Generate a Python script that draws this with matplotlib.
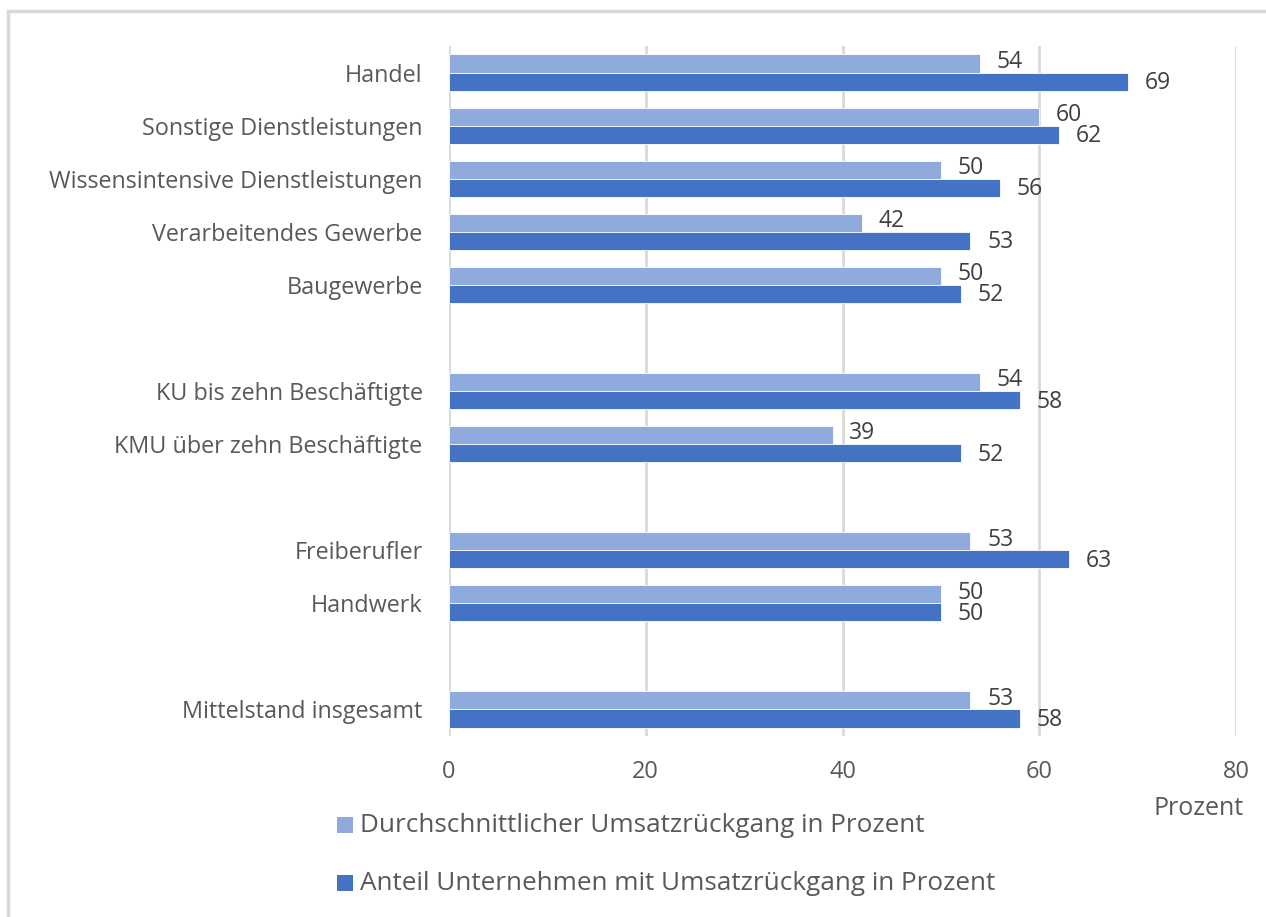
import numpy as np
import matplotlib.pyplot as plt
from matplotlib.patches import Rectangle

plt.rcParams['font.family'] = ['Open Sans', 'DejaVu Sans']

# Kategorien (leere Einträge = Abstand zwischen den Gruppen)
kategorien = ["Handel", "Sonstige Dienstleistungen", "Wissensintensive Dienstleistungen",
              "Verarbeitendes Gewerbe", "Baugewerbe", "",
              "KU bis zehn Beschäftigte", "KMU über zehn Beschäftigte", "",
              "Freiberufler", "Handwerk", "",
              "Mittelstand insgesamt"]
durchschnitt = [54, 60, 50, 42, 50, None, 54, 39, None, 53, 50, None, 53]
anteil = [69, 62, 56, 53, 52, None, 58, 52, None, 63, 50, None, 58]
serien = ["Durchschnittlicher Umsatzrückgang in Prozent",
          "Anteil Unternehmen mit Umsatzrückgang in Prozent"]
xticks = [0, 20, 40, 60, 80]

hell = "#8FAADC"
dunkel = "#4472C4"
grau = "#595959"

fig = plt.figure(figsize=(12.66, 9.17), dpi=100)
W, H = 1266, 917
ax = fig.add_axes([449 / W, 1 - 736 / H, (1236 - 449) / W, (736 - 46) / H])

y = np.arange(len(kategorien))
h = 0.34
for i in range(len(kategorien)):
    if durchschnitt[i] is None:
        continue
    ax.barh(y[i] - h / 2, durchschnitt[i], height=h, color=hell, edgecolor="white", linewidth=0.6, zorder=3)
    ax.barh(y[i] + h / 2, anteil[i], height=h, color=dunkel, edgecolor="white", linewidth=0.6, zorder=3)
    ax.text(durchschnitt[i] + 1.7, y[i] - h / 2 - 0.03, str(durchschnitt[i]), va="center", ha="left",
            fontsize=16.5, color="#404040")
    ax.text(anteil[i] + 1.7, y[i] + h / 2 + 0.03, str(anteil[i]), va="center", ha="left",
            fontsize=16.5, color="#404040")

ax.set_xlim(0, 80)
ax.set_ylim(len(kategorien) - 0.5, -0.5)
ax.set_xticks(xticks)
ax.set_xticklabels([str(t) for t in xticks], fontsize=17, color=grau)
ax.set_yticks(y)
ax.set_yticklabels(kategorien, fontsize=16.8, color=grau)
ax.tick_params(length=0, pad=19, axis="y")
ax.tick_params(length=0, pad=17, axis="x")
ax.xaxis.grid(True, color="#D9D9D9", linewidth=2, zorder=0)
for s in ax.spines.values():
    s.set_visible(False)

ax.text(1.01, -0.105, "Prozent", transform=ax.transAxes, ha="right", va="center",
        fontsize=18, color=grau)

# Legende
for k, (name, farbe) in enumerate(zip(serien, [hell, dunkel])):
    yy = 1 - (825 + k * 58) / H
    fig.patches.append(Rectangle((337 / W, yy - 8 / H), 16 / W, 16 / H, transform=fig.transFigure,
                                 facecolor=farbe, edgecolor="none"))
    fig.text(360 / W, yy, name, fontsize=18.8, color=grau, va="center", ha="left")

# Rahmen
fig.patches.append(Rectangle((8 / W, -0.1), 1.2, 1 - 11 / H + 0.1, transform=fig.transFigure,
                             facecolor="none", edgecolor="#D9D9D9", linewidth=2.5))

fig.savefig("out.png", dpi=100)
